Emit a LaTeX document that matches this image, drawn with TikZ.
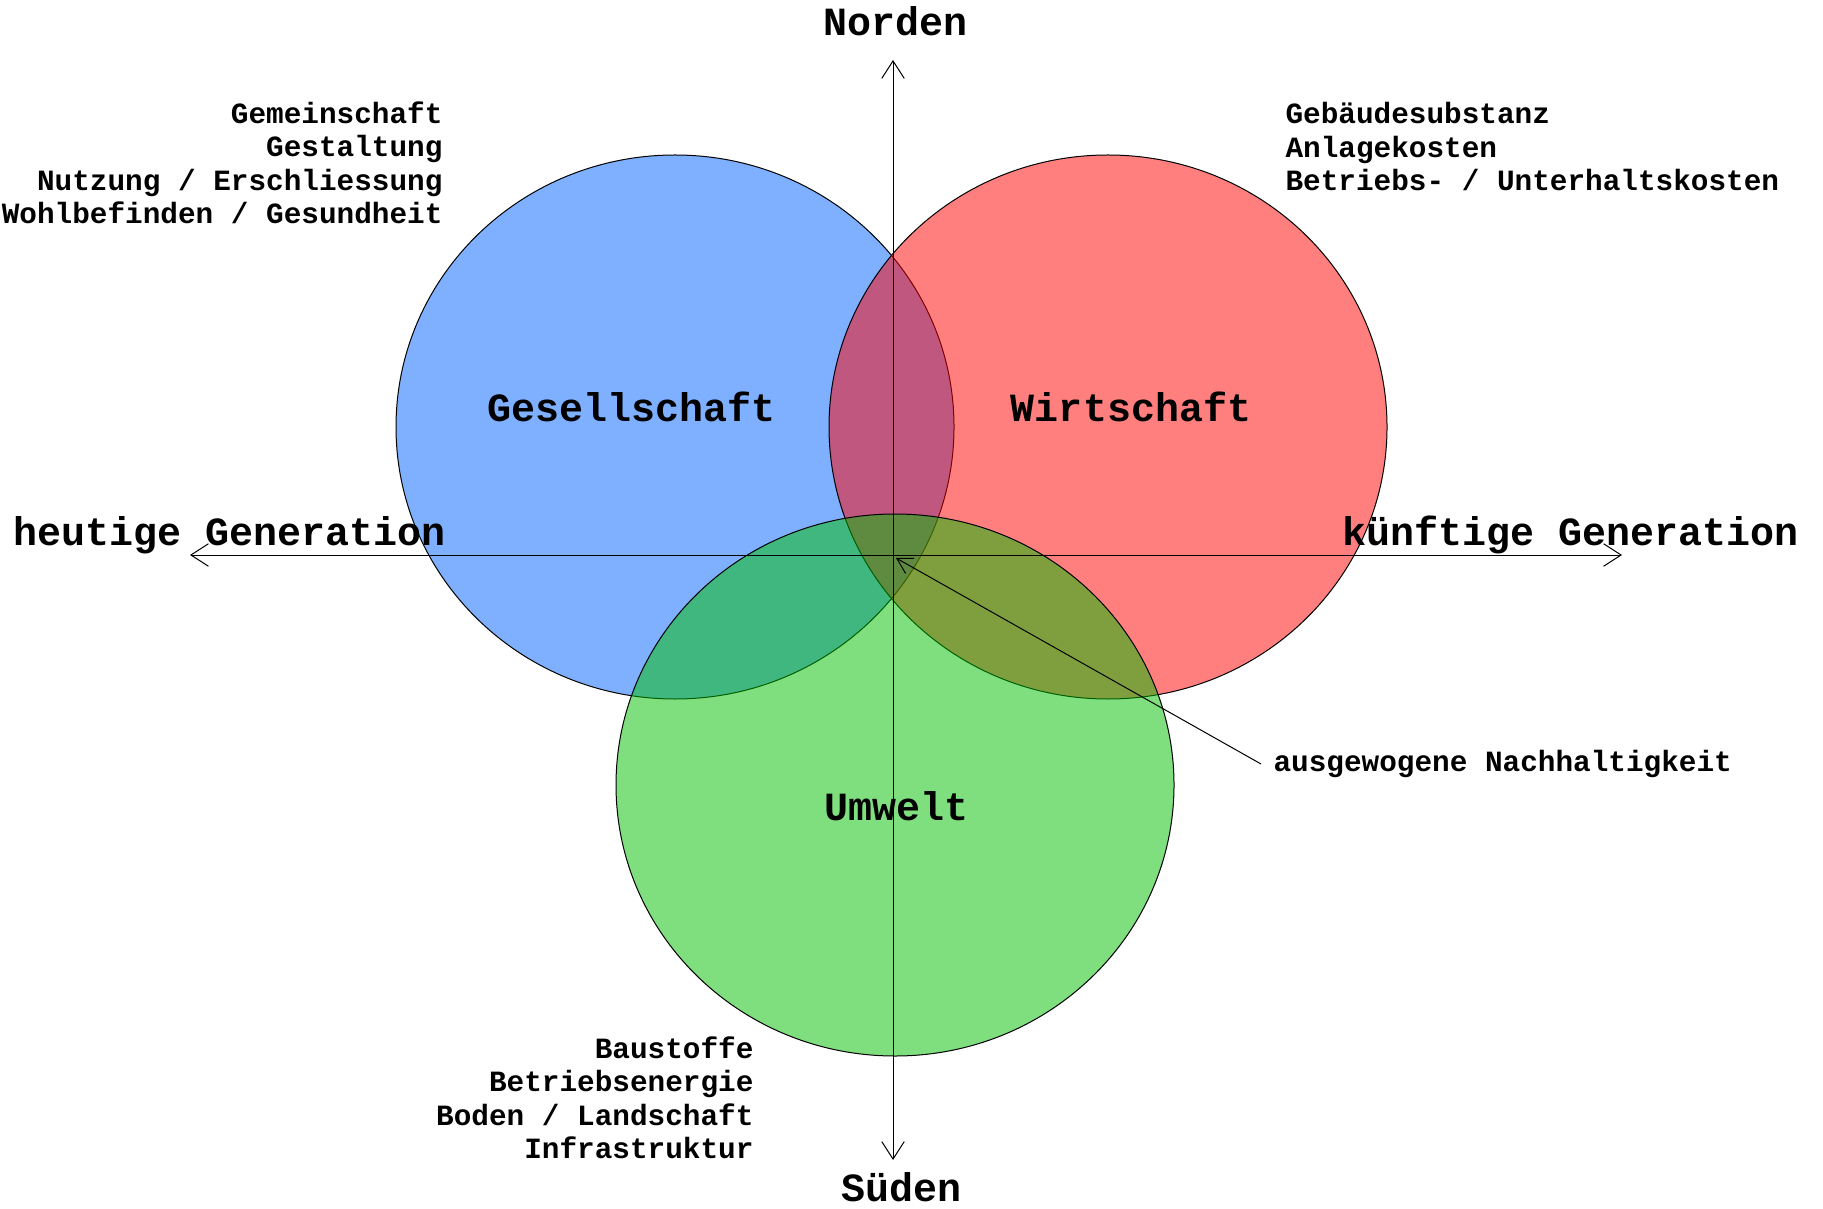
\documentclass[tikz,border=0pt]{standalone}
\usepackage{fontspec}
\usepackage{tikz}
\usetikzlibrary{arrows.meta}
\newfontfamily\courier{Liberation Mono}
\definecolor{gesblau}{RGB}{0,97,255}
\definecolor{wirtrot}{RGB}{255,0,0}
\definecolor{umwgruen}{RGB}{0,192,0}
\tikzstyle{kreis} = [draw=black, thin, fill opacity=0.5]
\tikzstyle{achse} = [draw=black, thin, -{Straight Barb[length=7pt,width=9pt]}]
\tikzstyle{titel} = [font=\courier\bfseries\fontsize{16}{18}\selectfont, inner sep=0pt]
\tikzstyle{liste} = [font=\courier\bfseries\fontsize{11.75}{13.4}\selectfont, inner sep=0pt]

\begin{document}
\begin{tikzpicture}[x=0.4pt, y=0.4pt]
                \useasboundingbox (0,0) rectangle (1823,1208);
                % die drei Kreise
                \draw[kreis, fill=gesblau] (675,781) ellipse [x radius=279, y radius=272];
                \draw[kreis, fill=wirtrot] (1108,781) ellipse [x radius=279, y radius=272];
                \draw[kreis, fill=umwgruen] (895,423) ellipse [x radius=279, y radius=271];
                \node[titel] (ges) at (632,801) {Gesellschaft};
                \node[titel] (wirt) at (1131,801) {Wirtschaft};
                \node[titel] (umw) at (896,402) {Umwelt};
                % Achsen
                \coordinate (mitte) at (893,653);
                \coordinate (nord) at (893,1148);
                \coordinate (sued) at (893,48);
                \coordinate (west) at (190,653);
                \coordinate (ost) at (1622,653);
                \draw[achse] (mitte) -- (nord);
                \draw[achse] (mitte) -- (sued);
                \draw[achse] (mitte) -- (west);
                \draw[achse] (mitte) -- (ost);
                \node[titel] (norden) at (895,1187) {Norden};
                \node[titel] (sueden) at (901,21) {Süden};
                \node[titel, anchor=west] (heute) at (13,673) {heutige Generation};
                \node[titel, anchor=east] (kuenftig) at (1799,673) {künftige Generation};
                % Aufzaehlungen
                \node[liste, align=right, anchor=east] (gesliste) at (443,1045) {Gemeinschaft\\Gestaltung\\Nutzung / Erschliessung\\Wohlbefinden / Gesundheit};
                \node[liste, align=left, anchor=west] (wirtliste) at (1285,1061) {Gebäudesubstanz\\Anlagekosten\\Betriebs- / Unterhaltskosten};
                \node[liste, align=right, anchor=east] (umwliste) at (754,110) {Baustoffe\\Betriebsenergie\\Boden / Landschaft\\Infrastruktur};
                \node[liste, anchor=west] (nachhalt) at (1273,444) {ausgewogene Nachhaltigkeit};
                \draw[achse, -{Straight Barb[length=6pt,width=7pt]}] (nachhalt.west) ++(-12,0) coordinate (zeiger) -- (896,650);
            \end{tikzpicture}
\end{document}
